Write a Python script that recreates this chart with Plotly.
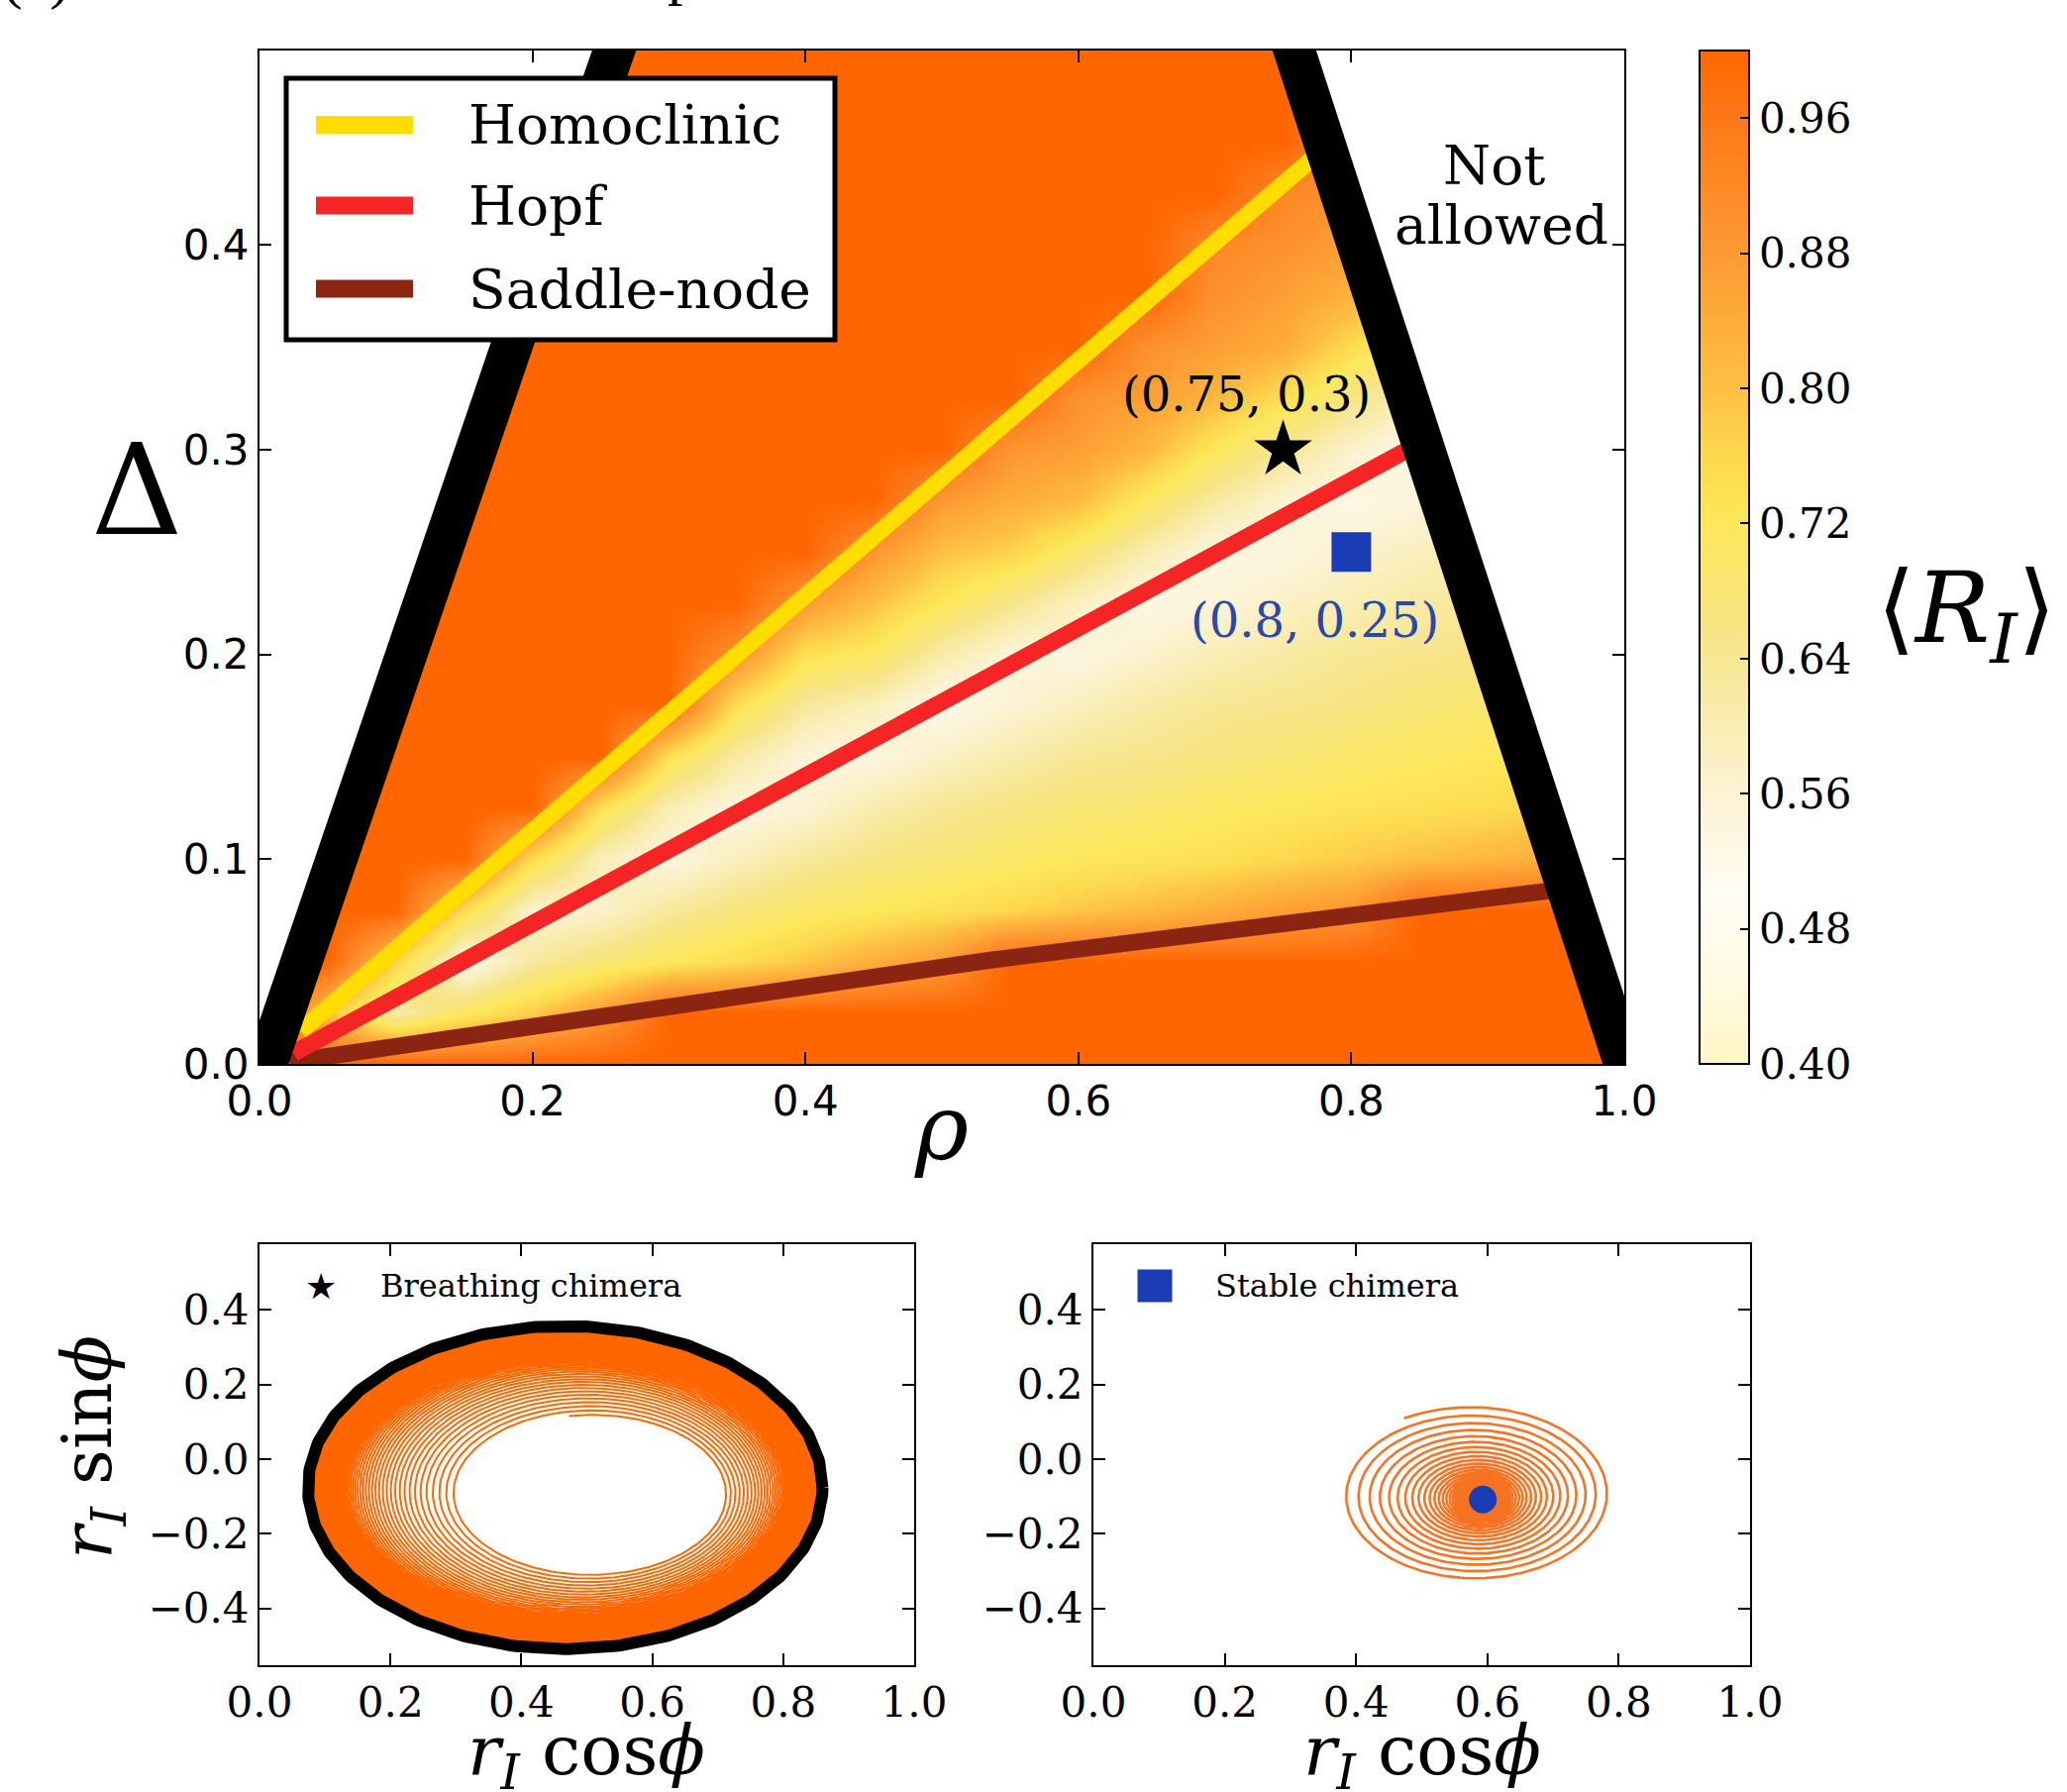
import numpy as np
import plotly.graph_objects as go

# ---------------- data ----------------
# heat-map grid of <R_I> over (rho, Delta)
rho_grid = [0.00, 0.05, 0.10, 0.15, 0.20, 0.25, 0.30, 0.35, 0.40, 0.45, 0.50,
            0.55, 0.60, 0.65, 0.70, 0.75, 0.80, 0.85, 0.90, 0.95, 1.00]
delta_grid = [0.000, 0.025, 0.050, 0.075, 0.100, 0.125, 0.150, 0.175, 0.200, 0.225, 0.250,
              0.275, 0.300, 0.325, 0.350, 0.375, 0.400, 0.425, 0.450, 0.475, 0.500]
R_mean = [
    [1, 1, 1, 1, 1, 1, 1, 1, 1, 1, 1, 1, 1, 1, 1, 1, 1, 1, 1, 1, 1],
    [1, .80, .61, .71, .78, .87, 1, 1, 1, 1, 1, 1, 1, 1, 1, 1, 1, 1, 1, 1, 1],
    [1, 1, .77, .52, .63, .68, .72, .75, .79, .84, .88, 1, 1, 1, 1, 1, 1, 1, 1, 1, 1],
    [1, 1, 1, .75, .56, .57, .63, .67, .70, .72, .74, .76, .79, .81, .84, .87, .89, 1, 1, 1, 1],
    [1, 1, 1, 1, .75, .59, .54, .59, .63, .66, .68, .70, .72, .73, .74, .76, .78, .80, .82, .84, .86],
    [1, 1, 1, 1, 1, .74, .60, .54, .56, .61, .64, .66, .68, .69, .71, .72, .73, .74, .75, .77, .78],
    [1, 1, 1, 1, 1, 1, .74, .62, .55, .54, .58, .61, .64, .65, .67, .68, .70, .71, .72, .73, .73],
    [1, 1, 1, 1, 1, 1, 1, .74, .63, .59, .52, .56, .59, .62, .64, .65, .66, .68, .69, .70, .71],
    [1, 1, 1, 1, 1, 1, 1, .90, .74, .71, .61, .55, .54, .57, .60, .62, .64, .65, .66, .67, .68],
    [1, 1, 1, 1, 1, 1, 1, 1, .88, .80, .72, .65, .58, .53, .55, .58, .60, .62, .64, .65, .66],
    [1, 1, 1, 1, 1, 1, 1, 1, 1, .89, .80, .77, .69, .60, .54, .54, .57, .59, .61, .62, .64],
    [1, 1, 1, 1, 1, 1, 1, 1, 1, 1, .88, .84, .81, .71, .62, .56, .53, .55, .57, .59, .61],
    [1, 1, 1, 1, 1, 1, 1, 1, 1, 1, 1, .89, .87, .82, .72, .64, .57, .52, .54, .56, .58],
    [1, 1, 1, 1, 1, 1, 1, 1, 1, 1, 1, 1, .90, .87, .82, .74, .66, .59, .55, .54, .55],
    [1, 1, 1, 1, 1, 1, 1, 1, 1, 1, 1, 1, 1, .90, .87, .84, .75, .67, .61, .56, .53],
    [1, 1, 1, 1, 1, 1, 1, 1, 1, 1, 1, 1, 1, 1, .90, .87, .83, .76, .69, .62, .57],
    [1, 1, 1, 1, 1, 1, 1, 1, 1, 1, 1, 1, 1, 1, .92, .90, .87, .83, .77, .70, .64],
    [1, 1, 1, 1, 1, 1, 1, 1, 1, 1, 1, 1, 1, 1, 1, .92, .90, .87, .83, .78, .71],
    [1, 1, 1, 1, 1, 1, 1, 1, 1, 1, 1, 1, 1, 1, 1, 1, .91, .90, .87, .84, .78],
    [1, 1, 1, 1, 1, 1, 1, 1, 1, 1, 1, 1, 1, 1, 1, 1, 1, .91, .90, .87, .84],
    [1, 1, 1, 1, 1, 1, 1, 1, 1, 1, 1, 1, 1, 1, 1, 1, 1, 1, .91, .89, .87],
]

# colour map of <R_I>
cmap_values = [0.40, 0.46, 0.50, 0.56, 0.62, 0.66, 0.72, 0.76, 0.80, 0.88, 0.96, 1.00]
cmap_colors = ['#fff6c6', '#fffbe6', '#fffdf4', '#fcf3d4', '#f8eaa4', '#f7e482',
               '#fde75a', '#fdd84e', '#fdc043', '#fd9a32', '#fe7818', '#ff6600']
cbar_ticks = [0.40, 0.48, 0.56, 0.64, 0.72, 0.80, 0.88, 0.96]

# "not allowed" boundaries
left_delta = [-0.02, 0.10, 0.20, 0.30, 0.40, 0.52]
left_rho = [-0.005, 0.0545, 0.1045, 0.157, 0.21, 0.273]
right_delta = [-0.02, 0.10, 0.20, 0.30, 0.40, 0.52]
right_rho = [1.01, 0.952, 0.9025, 0.851, 0.805, 0.746]

# bifurcation lines
homoclinic_rho = [0.030, 0.785]
homoclinic_delta = [0.016, 0.450]
hopf_rho = [0.025, 0.851]
hopf_delta = [0.0053, 0.3035]
saddle_rho = [0.022, 0.5356, 0.958]
saddle_delta = [0.001, 0.0507, 0.0856]

# marked parameter points
star_point = [0.75, 0.30]
square_point = [0.80, 0.25]

# breathing chimera trajectory (read geometry)
breath_inner_center = [0.508, -0.093]
breath_inner_axes = [0.2025, 0.2115]
breath_outer_center = [0.467, -0.076]
breath_outer_axes = [0.393, 0.433]
breath_turns = 100
breath_decay = 0.95

# stable chimera trajectory (read geometry)
stable_outer_center = [0.578, -0.095]
stable_outer_axes = [0.21, 0.236]
stable_fixed_point = [0.593, -0.108]
stable_turns = 70
stable_decay = 0.91

# ---------------- colours / fonts ----------------
ORANGE = '#ff6600'
YELLOW = '#ffdd00'
RED = '#f52525'
BROWN = '#8b2511'
BLUE = '#1a3cb4'
SERIF = 'DejaVu Serif'
SANS = 'DejaVu Sans'

W, H = 2087, 1809
def px(x):
    return x / W
def py(y):
    return 1 - y / H

colorscale = [[(v - 0.40) / 0.60, c] for v, c in zip(cmap_values, cmap_colors)]

fig = go.Figure()

fig.add_trace(go.Heatmap(
    x=rho_grid, y=delta_grid, z=R_mean, zmin=0.40, zmax=1.0, zsmooth='best',
    colorscale=colorscale, hoverinfo='skip', xaxis='x', yaxis='y',
    colorbar=dict(x=px(1716), xanchor='left', xpad=0, y=py(51), yanchor='top', ypad=0,
                  len=(1074 - 51) / H, lenmode='fraction', thickness=50,
                  outlinewidth=2, outlinecolor='black',
                  ticks='inside', ticklen=10, tickwidth=1.5, tickcolor='black',
                  tickvals=cbar_ticks, ticktext=['%.2f' % v for v in cbar_ticks],
                  tickfont=dict(family=SERIF, size=42, color='black'))))

# white "not allowed" regions
fig.add_trace(go.Scatter(x=[-0.05] + left_rho + [-0.05],
                         y=[left_delta[0]] + left_delta + [left_delta[-1]],
                         fill='toself', fillcolor='white', mode='lines',
                         line=dict(width=0, color='white'), hoverinfo='skip'))
fig.add_trace(go.Scatter(x=[1.05] + right_rho + [1.05],
                         y=[right_delta[0]] + right_delta + [right_delta[-1]],
                         fill='toself', fillcolor='white', mode='lines',
                         line=dict(width=0, color='white'), hoverinfo='skip'))

# bifurcation lines
fig.add_trace(go.Scatter(x=saddle_rho, y=saddle_delta, mode='lines', name='Saddle-node',
                         line=dict(color=BROWN, width=17)))
fig.add_trace(go.Scatter(x=hopf_rho, y=hopf_delta, mode='lines', name='Hopf',
                         line=dict(color=RED, width=17)))
fig.add_trace(go.Scatter(x=homoclinic_rho, y=homoclinic_delta, mode='lines', name='Homoclinic',
                         line=dict(color=YELLOW, width=17)))

# black boundaries
fig.add_trace(go.Scatter(x=left_rho, y=left_delta, mode='lines',
                         line=dict(color='black', width=42), hoverinfo='skip'))
fig.add_trace(go.Scatter(x=right_rho, y=right_delta, mode='lines',
                         line=dict(color='black', width=42), hoverinfo='skip'))

# marked points
fig.add_trace(go.Scatter(x=[star_point[0]], y=[star_point[1]], mode='markers',
                         marker=dict(symbol='star', size=44, color='black')))
fig.add_trace(go.Scatter(x=[square_point[0]], y=[square_point[1]], mode='markers',
                         marker=dict(symbol='square', size=40, color=BLUE)))

# ---------------- bottom panels ----------------
def elliptic_spiral(c_start, a_start, c_end, a_end, turns, decay, theta0, direction, ppt=160):
    k = np.arange(turns * ppt + 1)
    theta = theta0 + direction * 2 * np.pi * k / ppt
    w = 1 - decay ** (k / ppt)          # 0 at start -> 1 at the end
    cx = c_start[0] + w * (c_end[0] - c_start[0])
    cy = c_start[1] + w * (c_end[1] - c_start[1])
    ax = a_start[0] + w * (a_end[0] - a_start[0])
    ay = a_start[1] + w * (a_end[1] - a_start[1])
    return cx + ax * np.cos(theta), cy + ay * np.sin(theta)

bx, by = elliptic_spiral(breath_inner_center, breath_inner_axes,
                         breath_outer_center, breath_outer_axes,
                         breath_turns, breath_decay, np.deg2rad(100), -1)
fig.add_trace(go.Scatter(x=bx, y=by, mode='lines', line=dict(color=ORANGE, width=2.0),
                         xaxis='x2', yaxis='y2', hoverinfo='skip'))
t = np.linspace(0, 2 * np.pi, 400)
fig.add_trace(go.Scatter(x=breath_outer_center[0] + breath_outer_axes[0] * np.cos(t),
                         y=breath_outer_center[1] + breath_outer_axes[1] * np.sin(t),
                         mode='lines', line=dict(color='black', width=12),
                         xaxis='x2', yaxis='y2', hoverinfo='skip'))

sx, sy = elliptic_spiral(stable_outer_center, stable_outer_axes,
                         stable_fixed_point, [0.0, 0.0],
                         stable_turns, stable_decay, np.deg2rad(120), -1)
fig.add_trace(go.Scatter(x=sx, y=sy, mode='lines', line=dict(color='#f77322', width=2.6),
                         xaxis='x3', yaxis='y3', hoverinfo='skip'))
fig.add_trace(go.Scatter(x=[stable_fixed_point[0]], y=[stable_fixed_point[1]], mode='markers',
                         marker=dict(symbol='circle', size=28, color=BLUE),
                         xaxis='x3', yaxis='y3', hoverinfo='skip'))

# ---------------- axes ----------------
axis_common = dict(ticks='inside', ticklen=12, tickwidth=1.5, tickcolor='black',
                   mirror='allticks', showline=True, linecolor='black', linewidth=2,
                   showgrid=False, zeroline=False)
x_ticks = [0.0, 0.2, 0.4, 0.6, 0.8, 1.0]
fig.update_layout(
    width=W, height=H, margin=dict(l=0, r=0, t=0, b=0, pad=0, autoexpand=False),
    paper_bgcolor='white', plot_bgcolor='white', showlegend=False,
    xaxis=dict(domain=[px(262), px(1640)], range=[0, 1], anchor='y',
               tickvals=x_ticks, ticktext=['%.1f' % v for v in x_ticks],
               tickfont=dict(family=SANS, size=42, color='black'), **axis_common),
    yaxis=dict(domain=[py(1074), py(51)], range=[0, 0.495], anchor='x',
               tickvals=[0.0, 0.1, 0.2, 0.3, 0.4],
               ticktext=['0.0', '0.1', '0.2', '0.3', '0.4'],
               tickfont=dict(family=SANS, size=42, color='black'), **axis_common),
    xaxis2=dict(domain=[px(262), px(923)], range=[0, 1], anchor='y2',
                tickvals=x_ticks, ticktext=['%.1f' % v for v in x_ticks],
                tickfont=dict(family=SERIF, size=42, color='black'), **axis_common),
    yaxis2=dict(domain=[py(1681), py(1256)], range=[-0.552, 0.576], anchor='x2',
                tickvals=[-0.4, -0.2, 0.0, 0.2, 0.4],
                ticktext=['\u22120.4', '\u22120.2', '0.0', '0.2', '0.4'],
                tickfont=dict(family=SERIF, size=42, color='black'), **axis_common),
    xaxis3=dict(domain=[px(1104), px(1767)], range=[0, 1], anchor='y3',
                tickvals=x_ticks, ticktext=['%.1f' % v for v in x_ticks],
                tickfont=dict(family=SERIF, size=42, color='black'), **axis_common),
    yaxis3=dict(domain=[py(1681), py(1256)], range=[-0.552, 0.576], anchor='x3',
                tickvals=[-0.4, -0.2, 0.0, 0.2, 0.4],
                ticktext=['\u22120.4', '\u22120.2', '0.0', '0.2', '0.4'],
                tickfont=dict(family=SERIF, size=42, color='black'), **axis_common),
)

# ---------------- legend of the main panel (drawn) ----------------
shapes = [dict(type='rect', xref='paper', yref='paper', x0=px(289), x1=px(843),
               y0=py(343), y1=py(79), fillcolor='white', line=dict(color='black', width=5),
               layer='above')]
legend_items = [('Homoclinic', YELLOW, 126), ('Hopf', RED, 207.6), ('Saddle-node', BROWN, 291.5)]
annotations = []

def note(text, x, y, size, family=SERIF, color='black', xanchor='center', yanchor='middle',
         xref='paper', yref='paper', **kw):
    annotations.append(dict(text=text, x=x, y=y, xref=xref, yref=yref, xanchor=xanchor,
                            yanchor=yanchor, showarrow=False,
                            font=dict(family=family, size=size, color=color), **kw))

for name, col, yy in legend_items:
    shapes.append(dict(type='line', xref='paper', yref='paper', x0=px(319), x1=px(417),
                       y0=py(yy), y1=py(yy), line=dict(color=col, width=18), layer='above'))
    note(name, px(471), py(yy), 55, xanchor='left')

# bottom legends
note('\u2605', px(323.5), py(1298), 36, family=SANS)
note('Breathing chimera', px(382), py(1298), 32, xanchor='left')
shapes.append(dict(type='rect', xref='paper', yref='paper', x0=px(1148.5), x1=px(1183.5),
                   y0=py(1314.5), y1=py(1281.5), fillcolor=BLUE, line=dict(width=0)))
note('Stable chimera', px(1224.5), py(1298), 32, xanchor='left')

# texts in main panel
note('Not', px(1508), py(167), 55)
note('allowed', px(1516), py(227), 55)
note('(0.75, 0.3)', 0.7228, 0.327, 48, xref='x', yref='y')
note('(0.8, 0.25)', 0.7734, 0.217, 48, color='#2b48a8', xref='x', yref='y')

# cut-off caption line at the very top of the picture
note('(a)', px(0), py(13.4), 62, family='Liberation Serif', xanchor='left', yanchor='bottom')
note('p', px(689), py(7.9), 62, family='Liberation Serif', yanchor='bottom')

# axis titles
note('\u0394', px(138), py(495), 128)
note('<i>\u03c1</i>', px(950), py(1138), 92)
note('\u27e8<i>R</i><sub><i>I</i></sub>\u27e9', px(1985), py(620), 100)
note('<i>r</i><sub><i>I</i></sub> sin<i>\u03d5</i>', px(93), py(1461), 70, textangle=-90)
for cx in (592, 1435.5):
    note('<i>r</i><sub><i>I</i></sub> cos<i>\u03d5</i>', px(cx), py(1772), 70)

fig.update_layout(shapes=shapes, annotations=annotations)

fig.write_html("out.html", config={'displayModeBar': False},
               post_script="document.body.style.margin='0';document.body.style.overflow='hidden';")
